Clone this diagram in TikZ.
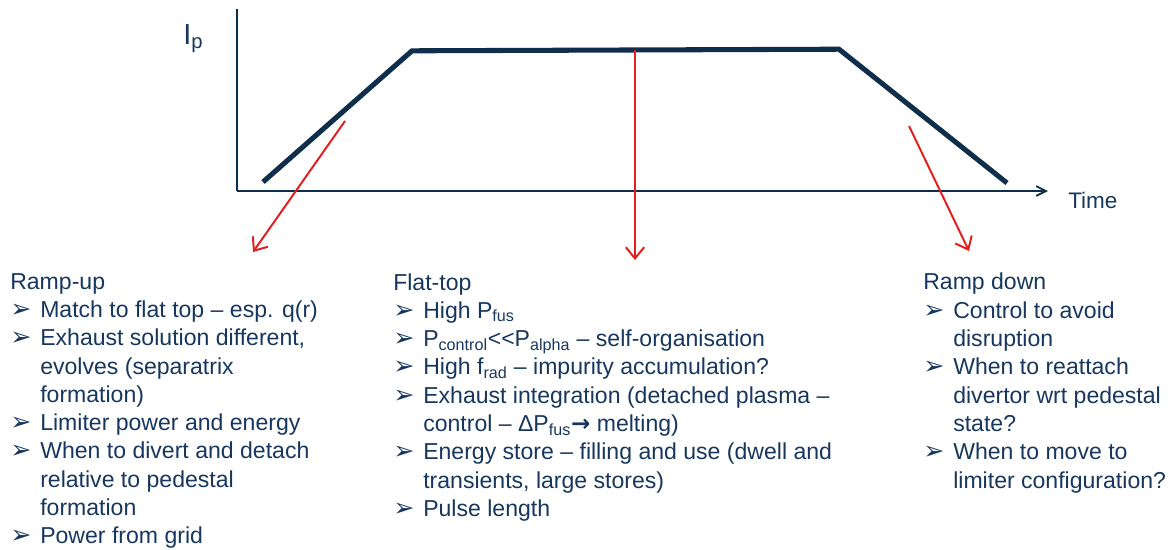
\documentclass[tikz,border=0pt]{standalone}
\usepackage{fontspec}
\setmainfont{Liberation Sans}
\newfontfamily\dingfont{DejaVu Sans}
\usepackage{tikz}
\usetikzlibrary{arrows.meta}
\definecolor{ipnavy}{HTML}{0F2E4C}
\definecolor{txtnavy}{HTML}{17375E}
\definecolor{ipred}{HTML}{E41E1E}
\tikzstyle{pulse}=[ipnavy, line width=3.6pt]
\tikzstyle{axis}=[ipnavy, line width=1.3pt]
\tikzstyle{pointer}=[ipred, line width=1.4pt, -{Straight Barb[length=8pt,width=13pt]}]
\tikzstyle{phase}=[anchor=north west, inner sep=0pt, align=left, text=txtnavy, font=\fontsize{16.4}{20.13}\selectfont]
\newcommand{\bul}{\makebox[0.75cm][l]{{\dingfont\fontsize{18}{18}\selectfont ➢}}}
\newcommand{\cnt}{\hspace*{0.75cm}}
\newcommand{\gives}{{\dingfont\bfseries →}}

\begin{document}
\begin{tikzpicture}
\useasboundingbox (0,0) rectangle (29.35,-13.725);
% axes
\coordinate (o) at (5.925,-4.775);
\coordinate (ytop) at (5.925,-0.225);
\coordinate (xend) at (26.2,-4.775);
\draw[axis] (ytop) -- (o);
\draw[axis,-{Straight Barb[length=7pt,width=7pt]}] (o) -- (xend);
\node[text=txtnavy, font=\fontsize{20.6}{24}\selectfont, anchor=base west, inner sep=0pt] (ip) at (4.575,-1.1) {I\textsubscript{p}};
\node[text=txtnavy, font=\fontsize{16}{19}\selectfont, anchor=base west, inner sep=0pt] (time) at (26.7,-5.2) {Time};
% plasma current
\coordinate (s) at (6.575,-4.55);
\coordinate (a) at (10.3,-1.27);
\coordinate (b) at (20.975,-1.23);
\coordinate (e) at (25.175,-4.575);
\draw[pulse] (s) -- (a) -- (b) -- (e);
% pointers
\coordinate (up0) at (8.625,-3.025);
\coordinate (up1) at (6.325,-6.3);
\coordinate (ft0) at (15.875,-1.25);
\coordinate (ft1) at (15.875,-6.5);
\coordinate (dn0) at (22.725,-3.15);
\coordinate (dn1) at (24.225,-6.275);
\draw[pointer] (up0) -- (up1);
\draw[pointer] (ft0) -- (ft1);
\draw[pointer] (dn0) -- (dn1);
% phases
\node[phase] (rampup) at (0.25,-6.825) {Ramp-up\\
\bul Match to flat top – esp. q(r)\\
\bul Exhaust solution different,\\
\cnt evolves (separatrix\\
\cnt formation)\\
\bul Limiter power and energy\\
\bul When to divert and detach\\
\cnt relative to pedestal\\
\cnt formation\\
\bul Power from grid};
\node[phase] (flattop) at (9.825,-6.825) {Flat-top\\
\bul High P\textsubscript{fus}\\
\bul P\textsubscript{control}<{}<P\textsubscript{alpha} – self-organisation\\
\bul High f\textsubscript{rad} – impurity accumulation?\\
\bul Exhaust integration (detached plasma –\\
\cnt control – ΔP\textsubscript{fus}\gives{} melting)\\
\bul Energy store – filling and use (dwell and\\
\cnt transients, large stores)\\
\bul Pulse length};
\node[phase] (rampdown) at (23.075,-6.825) {Ramp down\\
\bul Control to avoid\\
\cnt disruption\\
\bul When to reattach\\
\cnt divertor wrt pedestal\\
\cnt state?\\
\bul When to move to\\
\cnt limiter configuration?};
\end{tikzpicture}
\end{document}
